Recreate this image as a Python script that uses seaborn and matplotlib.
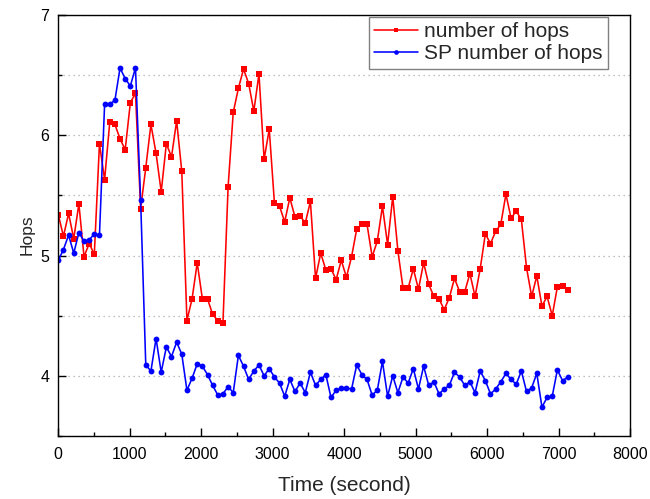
import numpy as np
import pandas as pd
import matplotlib
matplotlib.use("Agg")
import matplotlib.pyplot as plt
from matplotlib.ticker import MultipleLocator
import seaborn as sns

# sampling times (seconds): one sample every 72 s
time = np.arange(100) * 72

hops = [5.34, 5.16, 5.35, 5.14, 5.43, 4.99, 5.10, 5.01, 5.93, 5.63,
        6.11, 6.09, 5.97, 5.88, 6.27, 6.35, 5.39, 5.73, 6.09, 5.85,
        5.53, 5.93, 5.82, 6.12, 5.70, 4.46, 4.64, 4.94, 4.64,
        4.64, 4.51, 4.46, 4.44, 5.57, 6.19, 6.39, 6.55, 6.43, 6.20,
        6.51, 5.80, 6.05, 5.44, 5.41, 5.28, 5.48, 5.32, 5.33, 5.27,
        5.45, 4.81, 5.02, 4.88, 4.89, 4.80, 4.96, 4.82,
        4.99, 5.22, 5.26, 5.26, 4.99, 5.12, 5.41, 5.09, 5.49, 5.04,
        4.73, 4.73, 4.89, 4.72, 4.94, 4.76, 4.66, 4.64, 4.55, 4.65,
        4.81, 4.70, 4.70, 4.85, 4.66, 4.89,
        5.18, 5.10, 5.20, 5.26, 5.51, 5.31, 5.37, 5.30, 4.90, 4.66,
        4.83, 4.58, 4.66, 4.50, 4.74, 4.75, 4.71]

sp_hops = [4.96, 5.05, 5.17, 5.02, 5.19, 5.12, 5.13, 5.18, 5.17, 6.26,
           6.26, 6.29, 6.56, 6.47, 6.41, 6.56, 5.46, 4.09, 4.04, 4.31,
           4.03, 4.24, 4.16, 4.28, 4.18, 3.88, 3.98, 4.10, 4.08,
           4.01, 3.92, 3.84, 3.85, 3.91, 3.86, 4.17, 4.08, 3.97, 4.04,
           4.09, 4.00, 4.06, 3.99, 3.94, 3.83, 3.97, 3.87, 3.94, 3.86,
           4.03, 3.92, 3.97, 4.01, 3.82, 3.88, 3.90, 3.90,
           3.89, 4.09, 4.01, 3.97, 3.84, 3.88, 4.12, 3.83, 4.00, 3.86,
           3.99, 3.94, 4.06, 3.89, 4.08, 3.92, 3.95, 3.85, 3.89, 3.92,
           4.03, 3.99, 3.92, 3.95, 3.86, 4.04,
           3.96, 3.85, 3.89, 3.95, 4.02, 3.97, 3.93, 4.04, 3.87, 3.90,
           4.02, 3.74, 3.82, 3.83, 4.05, 3.96, 3.99]

x_ticks = [0, 1000, 2000, 3000, 4000, 5000, 6000, 7000, 8000]
y_ticks = [4, 5, 6, 7]
series_names = ["number of hops", "SP number of hops"]

df = pd.DataFrame({"time": time, "hops": hops, "sp": sp_hops})

sns.set_style("ticks")
plt.rcParams["font.family"] = ["Liberation Sans", "DejaVu Sans"]

fig = plt.figure(figsize=(6.5, 4.99), dpi=100)
ax = fig.add_axes([0.0897, 0.1263, 0.8795, 0.8437])

sns.lineplot(data=df, x="time", y="hops", ax=ax, color="#FF0000",
             marker="s", markersize=4.2, markeredgewidth=0, linewidth=1.15,
             label=series_names[0], estimator=None, sort=False)
sns.lineplot(data=df, x="time", y="sp", ax=ax, color="#0000FF",
             marker="o", markersize=4.2, markeredgewidth=0, linewidth=1.15,
             label=series_names[1], estimator=None, sort=False)

ax.set_xlim(0, 8000)
ax.set_ylim(3.5, 7)
ax.set_xticks(x_ticks)
ax.set_yticks(y_ticks)
ax.xaxis.set_minor_locator(MultipleLocator(500))
ax.yaxis.set_minor_locator(MultipleLocator(0.5))

ax.tick_params(axis="both", which="major", direction="in", length=6,
               width=1, colors="black", labelsize=11.5, top=False, right=False)
ax.tick_params(axis="both", which="minor", direction="in", length=3.2,
               width=1, colors="black", top=False, right=False)
ax.tick_params(axis="x", which="major", pad=8)
ax.tick_params(axis="y", which="major", pad=6.5)

ax.yaxis.grid(True, which="both", linestyle=(0, (1, 3)), color="#AAAAAA",
              linewidth=0.9)
ax.xaxis.grid(False)

for s in ax.spines.values():
    s.set_visible(True)
    s.set_color("black")
    s.set_linewidth(1.0)

ax.set_xlabel("Time (second)", fontsize=15, labelpad=10)
ax.set_ylabel("Hops", fontsize=12.5)
ax.yaxis.set_label_coords(-0.041, 0.477)

leg = ax.legend(loc="upper right", bbox_to_anchor=(0.9615, 0.995),
                borderaxespad=0, fontsize=15, frameon=True, fancybox=False,
                edgecolor="#808080", framealpha=1, handlelength=2.1,
                handletextpad=0.3, labelspacing=0.15, borderpad=0.25,
                numpoints=1, markerscale=0.8)
leg.get_frame().set_linewidth(1.0)

fig.savefig("out.png", dpi=100)
